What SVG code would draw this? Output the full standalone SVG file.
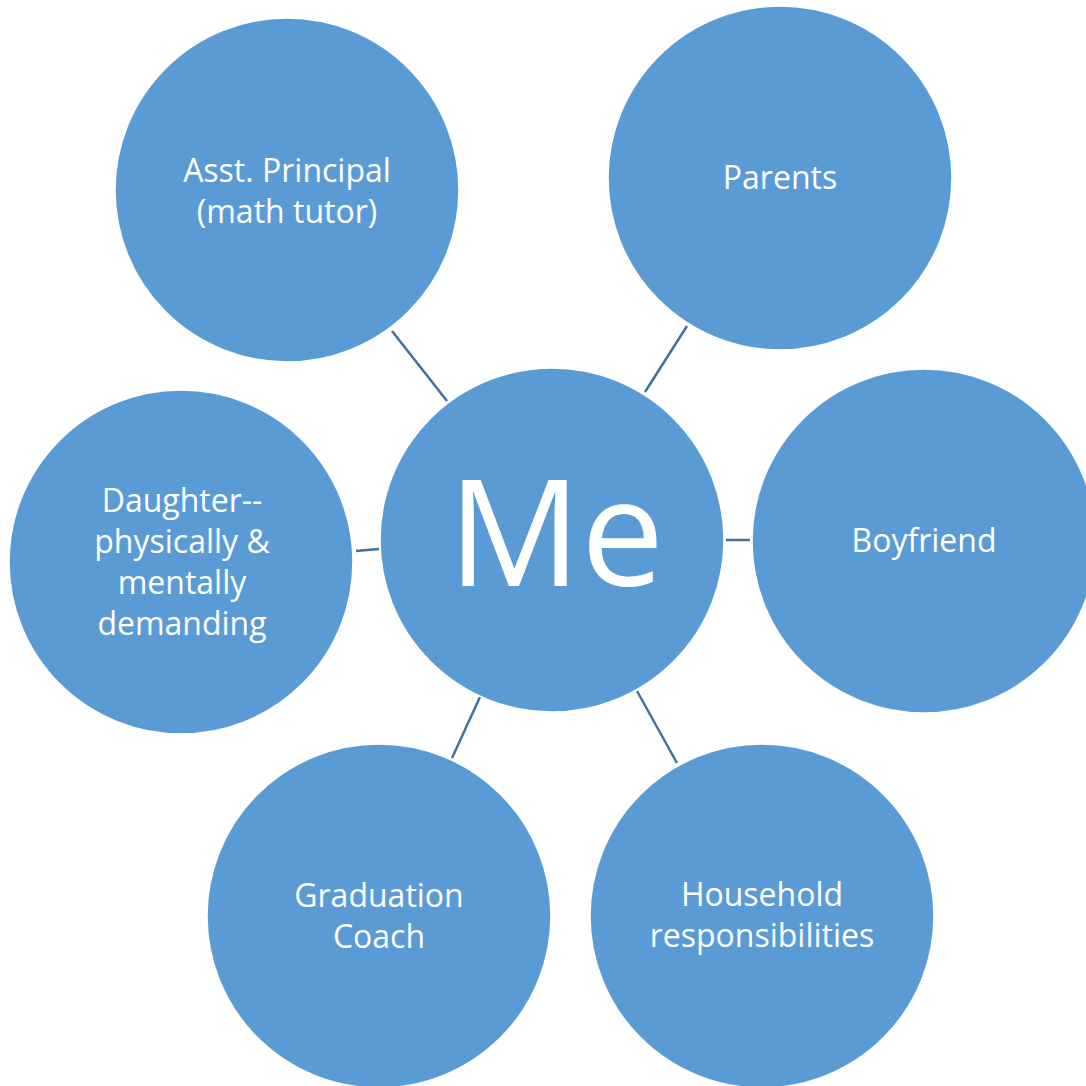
<svg xmlns="http://www.w3.org/2000/svg" width="1086" height="1086" viewBox="0 0 1086 1086">
<style>
.node circle{fill:#5B9BD5;stroke:#FFFFFF;stroke-width:1.5}
.node text{fill:#FFFFFF;font-family:"Open Sans","DejaVu Sans",sans-serif;font-size:32px;text-anchor:middle}
.conn line{stroke:#41719C;stroke-width:2.5}
</style>
<rect width="1086" height="1086" fill="#FFFFFF"/>
<g id="connectors" class="conn">
<line x1="392" y1="331" x2="447" y2="401"/>
<line x1="687" y1="326" x2="645" y2="392"/>
<line x1="726" y1="540" x2="750" y2="540"/>
<line x1="356" y1="551" x2="379" y2="549"/>
<line x1="480" y1="697" x2="452" y2="758"/>
<line x1="637" y1="691" x2="677" y2="763"/>
</g>
<g id="node-asst" class="node">
<circle cx="287" cy="190" r="172"/>
<text x="287" y="182">Asst. Principal</text>
<text x="287" y="223">(math tutor)</text>
</g>
<g id="node-parents" class="node">
<circle cx="780" cy="178" r="172"/>
<text x="780" y="189">Parents</text>
</g>
<g id="node-boyfriend" class="node">
<circle cx="924" cy="541" r="172"/>
<text x="924" y="552">Boyfriend</text>
</g>
<g id="node-daughter" class="node">
<circle cx="181" cy="562" r="172"/>
<text x="182" y="512">Daughter--</text>
<text x="182" y="553">physically &amp;</text>
<text x="182" y="594">mentally</text>
<text x="182" y="635">demanding</text>
</g>
<g id="node-graduation" class="node">
<circle cx="379" cy="916" r="172"/>
<text x="379" y="907">Graduation</text>
<text x="379" y="948">Coach</text>
</g>
<g id="node-household" class="node">
<circle cx="762" cy="916" r="172"/>
<text x="762" y="906">Household</text>
<text x="762" y="947">responsibilities</text>
</g>
<g id="node-me" class="node">
<circle cx="552" cy="540" r="172"/>
<text x="556" y="586" style="font-size:148px">Me</text>
</g>
</svg>
